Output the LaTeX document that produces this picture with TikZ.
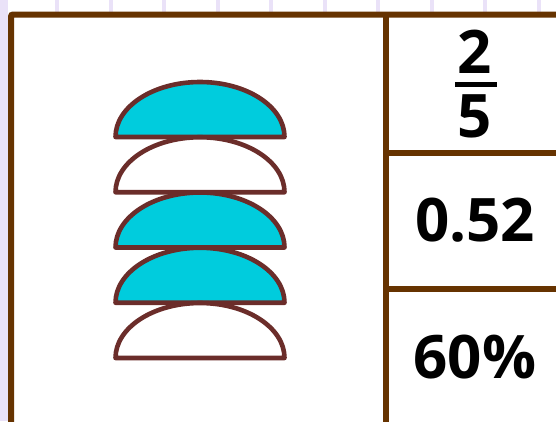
\documentclass[tikz,border=0pt]{standalone}
\usepackage{fontspec}
\setmainfont{Open Sans}
\definecolor{framebrown}{RGB}{102,51,0}
\definecolor{edgebrown}{RGB}{107,45,42}
\definecolor{cyanfill}{RGB}{0,204,221}
\definecolor{lav}{RGB}{234,226,248}
\tikzset{
  framerule/.style={draw=framebrown,line width=6pt},
  halfdisc/.style={draw=edgebrown,line width=4.6pt,line join=round},
  numtext/.style={font=\fontsize{60}{60}\selectfont\bfseries,text=black,inner sep=0pt},
}
\begin{document}
\begin{tikzpicture}[x=1pt,y=-1pt]
\useasboundingbox (0,0) rectangle (556,421);
\fill[white] (0,0) rectangle (556,421);
% background grid remnants
\fill[lav] (0,0) rectangle (7.5,421);
\foreach \k in {0,...,9}{
  \fill[lav] ({55+53.5*\k},0) rectangle ({59+53.5*\k},14);
}
\fill[white] (11,14) rectangle (600,440);
% half discs
\foreach \i/\col in {0/cyanfill,1/white,2/cyanfill,3/cyanfill,4/white}{
  \pgfmathsetmacro{\yb}{137+55.25*\i}
  \filldraw[halfdisc,fill=\col] (115.5,\yb) arc[start angle=180,end angle=360,x radius=84.5,y radius=55] -- cycle;
}
% frame
\coordinate (bl) at (11,430);
\coordinate (tl) at (11,14.5);
\coordinate (tr) at (565,14.5);
\coordinate (dt) at (386,14.5);
\coordinate (db) at (386,430);
\coordinate (h1l) at (386,152.5);
\coordinate (h1r) at (565,152.5);
\coordinate (h2l) at (386,288.5);
\coordinate (h2r) at (565,288.5);
\draw[framerule,rounded corners=2pt] (bl) -- (tl) -- (tr);
\draw[framerule] (dt) -- (db);
\draw[framerule] (h1l) -- (h1r);
\draw[framerule] (h2l) -- (h2r);
% texts
\node[numtext] (num) at (475,52) {2};
\fill[black] (455,81.5) rectangle (497,86.5);
\node[numtext] (den) at (475,116) {5};
\node[numtext] (dec) at (475,220) {0.52};
\node[numtext] (pct) at (475,357) {60\%};
\end{tikzpicture}
\end{document}
